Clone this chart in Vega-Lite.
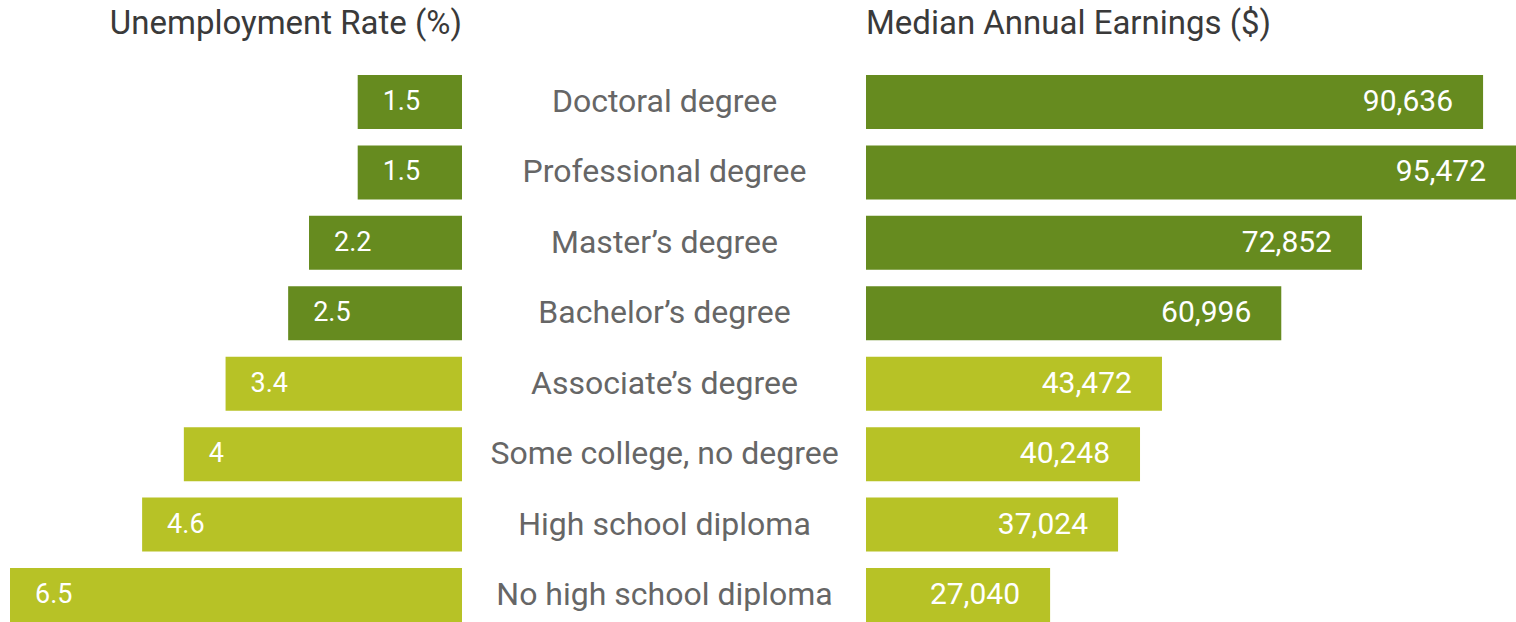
{
  "$schema": "https://vega.github.io/schema/vega-lite/v6.json",
  "padding": {"left": 10, "top": 8, "right": 0, "bottom": 0},
  "background": "white",
  "config": {
    "view": {"stroke": null},
    "font": "Roboto",
    "title": {"fontSize": 33, "fontWeight": "normal", "color": "#3a3a3a", "font": "Roboto", "frame": "group"}
  },
  "data": {
    "values": [
      {"level": "Doctoral degree", "unemployment": 1.5, "earnings": 90636, "group": "high", "earningsLabel": "90,636"},
      {"level": "Professional degree", "unemployment": 1.5, "earnings": 95472, "group": "high", "earningsLabel": "95,472"},
      {"level": "Master’s degree", "unemployment": 2.2, "earnings": 72852, "group": "high", "earningsLabel": "72,852"},
      {"level": "Bachelor’s degree", "unemployment": 2.5, "earnings": 60996, "group": "high", "earningsLabel": "60,996"},
      {"level": "Associate’s degree", "unemployment": 3.4, "earnings": 43472, "group": "low", "earningsLabel": "43,472"},
      {"level": "Some college, no degree", "unemployment": 4, "earnings": 40248, "group": "low", "earningsLabel": "40,248"},
      {"level": "High school diploma", "unemployment": 4.6, "earnings": 37024, "group": "low", "earningsLabel": "37,024"},
      {"level": "No high school diploma", "unemployment": 6.5, "earnings": 27040, "group": "low", "earningsLabel": "27,040"}
    ]
  },
  "hconcat": [
    {
      "width": 452,
      "height": 547,
      "title": {"text": "Unemployment Rate (%)", "anchor": "end", "offset": 34, "frame": "group"},
      "encoding": {
        "y": {
          "field": "level", "type": "nominal", "sort": null, "axis": null,
          "scale": {"paddingInner": 0.233, "paddingOuter": 0}
        },
        "x": {
          "field": "unemployment", "type": "quantitative", "axis": null,
          "scale": {"domain": [0, 6.5], "reverse": true, "nice": false}
        }
      },
      "layer": [
        {
          "mark": {"type": "bar"},
          "encoding": {
            "color": {"field": "group", "type": "nominal", "legend": null,
              "scale": {"domain": ["high", "low"], "range": ["#668b1f", "#b7c226"]}}
          }
        },
        {
          "mark": {"type": "text", "align": "left", "baseline": "middle", "dx": 25, "fontSize": 27, "color": "white"},
          "encoding": {"text": {"field": "unemployment", "type": "quantitative"}}
        }
      ]
    },
    {
      "width": 650,
      "height": 547,
      "title": {"text": "Median Annual Earnings ($)", "anchor": "start", "offset": 34, "frame": "group"},
      "encoding": {
        "y": {
          "field": "level", "type": "nominal", "sort": null,
          "scale": {"paddingInner": 0.233, "paddingOuter": 0},
          "axis": {
            "title": null, "domain": false, "ticks": false, "orient": "left",
            "labelAlign": "center", "labelBaseline": "middle", "labelPadding": 202,
            "labelFontSize": 32, "labelColor": "#666666", "labelLimit": 0, "labelFont": "Roboto"
          }
        },
        "x": {
          "field": "earnings", "type": "quantitative", "axis": null,
          "scale": {"domain": [0, 95472], "nice": false}
        }
      },
      "layer": [
        {
          "mark": {"type": "bar"},
          "encoding": {
            "color": {"field": "group", "type": "nominal", "legend": null,
              "scale": {"domain": ["high", "low"], "range": ["#668b1f", "#b7c226"]}}
          }
        },
        {
          "mark": {"type": "text", "align": "right", "baseline": "middle", "dx": -30, "fontSize": 30, "color": "white"},
          "encoding": {"text": {"field": "earningsLabel", "type": "nominal"}}
        }
      ]
    }
  ],
  "spacing": 404,
  "bounds": "flush"
}
